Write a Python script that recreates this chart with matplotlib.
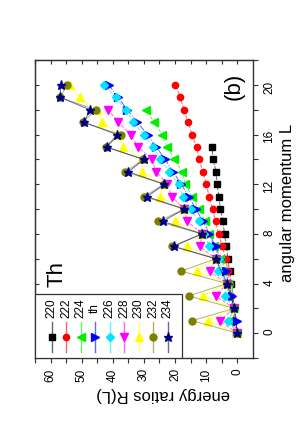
import numpy as np
import matplotlib
matplotlib.use("Agg")
from matplotlib import pyplot as plt
from matplotlib.patches import Rectangle

plt.rcParams['font.family'] = ['Liberation Sans', 'DejaVu Sans']

# data: energy ratios R(L) = E(L)/E(2) of Th isotopes
L_220 = [0, 2, 4, 5, 6, 7, 8, 9, 10, 11, 12, 13, 14, 15]
R_220 = [0, 1, 1.9, 2.5, 3.0, 3.5, 4.1, 4.6, 5.4, 5.9, 6.5, 6.8, 7.8, 8.1]

L_222 = list(range(0, 21))
R_222 = [0, 1.4, 1, 2.0, 2.4, 3.0, 3.7, 4.9, 6.0, 7.0, 7.9, 9.0, 10.0, 11.0,
         12.3, 13.1, 14.5, 15.8, 17.2, 18.3, 19.9]

L_224 = list(range(0, 19))
R_224 = [0, 2.6, 1, 3.1, 2.9, 5.0, 5.6, 7.5, 9.2, 10.3, 12.4, 14.5, 16.7, 17.7,
         20.2, 22.5, 24.1, 26.8, 29.2]

L_th = list(range(0, 21))
R_th = [0, 0.2, 1, 1.8, 3.0, 3.6, 5.4, 7.0, 9.0, 11.0, 13.3, 15.6, 18.0, 20.6,
        23.2, 26.0, 28.8, 32.2, 35.3, 38.3, 41.3]

L_226 = list(range(0, 21))
R_226 = [0, 3.0, 1, 4.1, 3.4, 6.2, 6.0, 9.0, 10.8, 12.4, 14.8, 17.4, 18.8, 21.8,
         24.7, 27.0, 30.0, 33.4, 35.9, 39.1, 42.8]

L_228 = list(range(0, 19))
R_228 = [0, 5.7, 1, 7.0, 3.4, 8.9, 7.0, 12.1, 11.2, 16.1, 17.0, 21.0, 22.5, 26.0,
         27.5, 31.8, 34.3, 38.2, 41.5]

L_230 = list(range(0, 21))
R_230 = [0, 9.5, 1, 11.0, 3.3, 12.9, 6.9, 16.1, 11.5, 19.9, 17.0, 24.9, 23.5, 30.6,
         30.5, 36.7, 38.0, 43.4, 45.2, 50.7, 53.7]

L_232 = list(range(0, 21))
R_232 = [0, 14.5, 1, 15.6, 3.3, 18.0, 6.9, 21.0, 11.4, 25.5, 17.0, 30.0, 23.5, 36.0,
         30.2, 42.3, 37.5, 49.6, 45.5, 57.0, 54.6]

L_234 = [0, 2, 4, 6, 7, 8, 9, 10, 11, 12, 13, 14, 15, 16, 17, 18, 19, 20]
R_234 = [0, 1, 3.3, 7.0, 20.4, 11.3, 24.0, 17.0, 29.0, 23.4, 35.0, 30.0, 42.0,
         38.6, 49.3, 47.3, 56.9, 56.7]

labels = ['220', '222', '224', 'th', '226', '228', '230', '232', '234']
series = [(L_220, R_220), (L_222, R_222), (L_224, R_224), (L_th, R_th),
          (L_226, R_226), (L_228, R_228), (L_230, R_230), (L_232, R_232),
          (L_234, R_234)]
colors = ['#000000', '#ff0000', '#00ee00', '#0000ff', '#00e5ff', '#ff00ff',
          '#ffff00', '#808000', '#000080']
markers = ['s', 'o', '<', '>', 'D', 'v', '^', 'o', '*']
msizes = [4.0, 4.5, 5.5, 5.5, 4.2, 5.5, 5.8, 5.0, 6.5]
styles = ['--', '--', '--', '-.', '--', '--', '-', '-', '-']

fig = plt.figure(figsize=(3.03, 4.36), dpi=100)
ax = fig.add_axes([0.1155, 0.179, 0.719, 0.683])

for (L, R), c, m, ms, ls in zip(series, colors, markers, msizes, styles):
    ax.plot(R, L, ls=ls, color=c, lw=0.7, alpha=0.6)
    ax.plot(R, L, ls='none', marker=m, ms=ms, color=c, mec=c)

ax.set_xlim(65, -5)
ax.set_ylim(-2, 22)
ax.set_xticks(np.arange(0, 61, 10))
ax.set_xticks(np.arange(0, 66, 5), minor=True)
ax.set_yticks(np.arange(0, 21, 4))
ax.set_yticks(np.arange(-2, 23, 2), minor=True)
ax.yaxis.tick_right()

ax.tick_params(axis='both', which='both', direction='out', length=3.5,
               width=0.8, colors='#333333', labelcolor='black',
               labelsize=8.5, pad=4)
ax.tick_params(axis='both', which='minor', length=3.5)
ax.tick_params(axis='x', labelrotation=90)
ax.tick_params(axis='y', labelrotation=90)

# mirrored inward ticks on top and left
top = ax.secondary_xaxis('top')
top.set_xticks(np.arange(0, 66, 5))
top.tick_params(direction='in', length=3, width=0.8, colors='#333333',
                labeltop=False)
left = ax.secondary_yaxis('left')
left.set_yticks(np.arange(-2, 23, 2))
left.tick_params(direction='in', length=3, width=0.8, colors='#333333',
                 labelleft=False)
for s in ax.spines.values():
    s.set_color('#333333')
    s.set_linewidth(1.0)

ax.set_xlabel('energy ratios R(L)', fontsize=12, rotation=180, va='center')
ax.xaxis.set_label_coords(0.587, -0.124)
ax.set_ylabel('angular momentum L', fontsize=12, rotation=90, va='center')
ax.yaxis.set_label_position('right')
ax.yaxis.set_label_coords(1.124, 0.52)

ax.text(0.101, 0.282, 'Th', transform=ax.transAxes, fontsize=16,
        rotation=90, ha='center', va='center')
ax.text(0.913, 0.913, '(b)', transform=ax.transAxes, fontsize=16,
        rotation=90, ha='center', va='center')

# legend drawn by hand, entries stacked sideways
ax.add_patch(Rectangle((0, 0), 0.676, 0.214, transform=ax.transAxes,
                       facecolor='white', edgecolor='#333333', lw=0.9,
                       zorder=5))
for i, (lab, c, m, ms) in enumerate(zip(labels, colors, markers, msizes)):
    xx = 0.0766 + i * 0.0665
    ax.plot([xx, xx], [0.021, 0.122], color=c, lw=1.0, alpha=0.6,
            transform=ax.transAxes, zorder=6)
    ax.plot([xx], [0.0695], marker=m, ms=ms, color=c, mec=c,
            transform=ax.transAxes, zorder=7)
    ax.text(xx, 0.166, lab, transform=ax.transAxes, fontsize=8.5,
            rotation=90, ha='center', va='center', zorder=7)

fig.savefig('out.png', dpi=100)
